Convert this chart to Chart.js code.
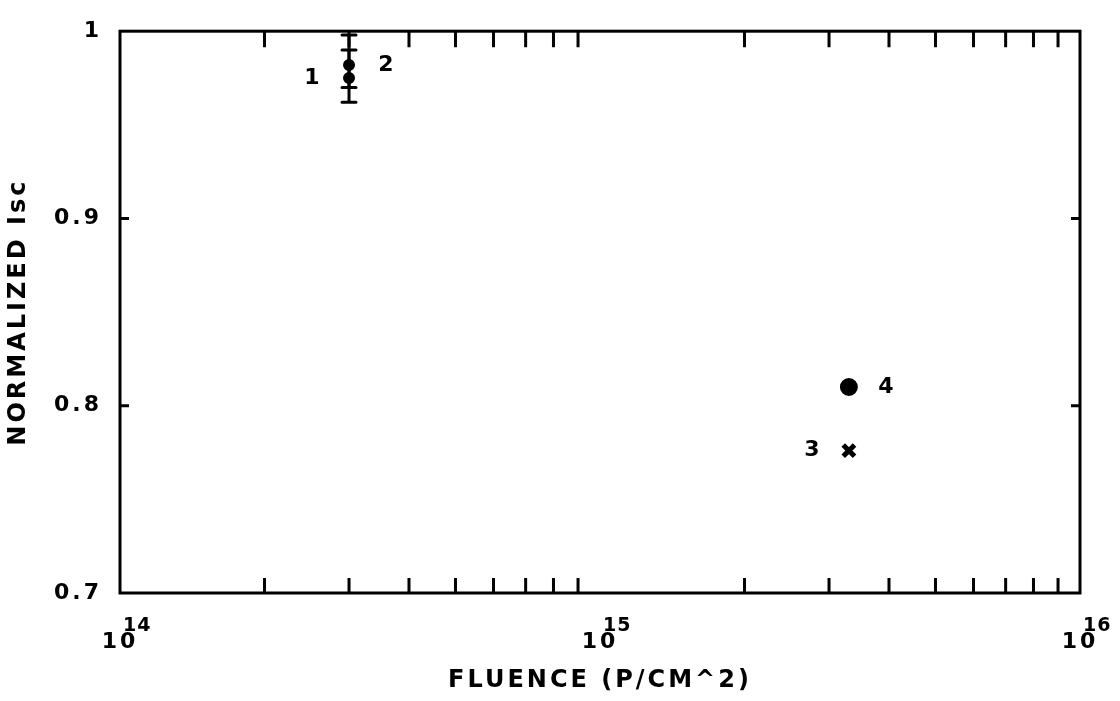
<!DOCTYPE html>
<html>
<head>
<meta charset="utf-8">
<script src="https://cdn.jsdelivr.net/npm/chart.js@4.4.0/dist/chart.umd.min.js"></script>
<style>
html,body{margin:0;padding:0;background:#fff;}
#wrap{width:1120px;height:701px;}
</style>
</head>
<body>
<div id="wrap"><canvas id="c" width="1120" height="701"></canvas></div>
<script>
// ---- data ----
const seriesNames = ['1', '2', '3', '4'];
const fluence = [3.0e14, 3.0e14, 3.3e15, 3.3e15];
const iscNorm = [0.975, 0.982, 0.776, 0.810];
const errLow = [0.962, 0.970, null, null];
const errHigh = [0.990, 0.998, null, null];
const xDecades = [1e14, 1e15, 1e16];
const xDecadeBase = ['10', '10', '10'];
const xExponents = ['14', '15', '16'];
const xMinorTicks = [2e14, 3e14, 4e14, 5e14, 6e14, 7e14, 8e14, 9e14,
                     2e15, 3e15, 4e15, 5e15, 6e15, 7e15, 8e15, 9e15];
const yTicks = [0.7, 0.8, 0.9, 1.0];
const yTickLabels = ['0.7', '0.8', '0.9', '1'];
const yInnerTicks = [0.8, 0.9];
const xTitle = 'FLUENCE (P/CM^2)';
const yTitle = 'NORMALIZED Isc';

// ---- styles ----
const FONT = 'DejaVu Sans';
const markerShapes = ['circle', 'circle', 'crossRot', 'circle'];
const markerRadii = [5, 5, 8, 8];
const markerBorder = [2, 2, 5, 2];
const labelSides = [-1, 1, -1, 1];

const plotPlugin = {
  id: 'plotPlugin',
  beforeDraw(chart) {
    const ctx = chart.ctx;
    ctx.save();
    ctx.fillStyle = '#fff';
    ctx.fillRect(0, 0, chart.width, chart.height);
    ctx.restore();
    ctx.letterSpacing = '3px';
  },
  beforeDatasetsDraw(chart) {
    const ctx = chart.ctx;
    const xs = chart.scales.x, ys = chart.scales.y;
    ctx.save();
    ctx.strokeStyle = '#000';
    ctx.lineWidth = 3;
    ctx.lineCap = 'round';
    for (let i = 0; i < fluence.length; i++) {
      if (errLow[i] == null) continue;
      const px = xs.getPixelForValue(fluence[i]);
      const y1 = ys.getPixelForValue(errLow[i]);
      const y2 = ys.getPixelForValue(errHigh[i]);
      ctx.beginPath();
      ctx.moveTo(px, y1); ctx.lineTo(px, y2);
      ctx.moveTo(px - 7, y1); ctx.lineTo(px + 7, y1);
      ctx.moveTo(px - 7, y2); ctx.lineTo(px + 7, y2);
      ctx.stroke();
    }
    ctx.restore();
  },
  afterDatasetsDraw(chart) {
    const ctx = chart.ctx;
    ctx.save();
    ctx.fillStyle = '#000';
    ctx.font = 'bold 22px "' + FONT + '"';
    ctx.letterSpacing = '0px';
    ctx.textAlign = 'center';
    ctx.textBaseline = 'middle';
    for (let i = 0; i < seriesNames.length; i++) {
      const el = chart.getDatasetMeta(i).data[0];
      ctx.fillText(seriesNames[i], el.x + labelSides[i] * 37, el.y);
    }
    ctx.restore();
  },
  afterDraw(chart) {
    const ctx = chart.ctx;
    const a = chart.chartArea;
    const xs = chart.scales.x, ys = chart.scales.y;
    ctx.save();
    ctx.strokeStyle = '#000';
    ctx.lineWidth = 3;
    ctx.strokeRect(a.left, a.top, a.right - a.left, a.bottom - a.top);
    ctx.beginPath();
    xMinorTicks.forEach(v => {
      const px = xs.getPixelForValue(v);
      ctx.moveTo(px, a.bottom); ctx.lineTo(px, a.bottom - 15);
      ctx.moveTo(px, a.top); ctx.lineTo(px, a.top + 16);
    });
    yInnerTicks.forEach(v => {
      const py = ys.getPixelForValue(v);
      ctx.moveTo(a.left, py); ctx.lineTo(a.left + 9, py);
      ctx.moveTo(a.right, py); ctx.lineTo(a.right - 9, py);
    });
    ctx.stroke();
    // exponents of decade labels
    ctx.fillStyle = '#000';
    ctx.font = 'bold 19px "' + FONT + '"';
    ctx.letterSpacing = '1px';
    ctx.textAlign = 'left';
    ctx.textBaseline = 'alphabetic';
    xDecades.forEach((v, i) => {
      const px = xs.getPixelForValue(v);
      ctx.fillText(xExponents[i], px + 3, xs.top + 38);
    });
    ctx.restore();
  }
};

const datasets = seriesNames.map((n, i) => ({
  label: n,
  data: [{ x: fluence[i], y: iscNorm[i] }],
  pointStyle: markerShapes[i],
  pointRadius: markerRadii[i],
  pointBorderWidth: markerBorder[i],
  pointBackgroundColor: '#000',
  pointBorderColor: '#000',
  showLine: false
}));

new Chart(document.getElementById('c'), {
  type: 'scatter',
  data: { datasets },
  plugins: [plotPlugin],
  options: {
    responsive: false,
    devicePixelRatio: 1,
    animation: false,
    events: [],
    layout: { padding: { top: 27, right: 40, left: 0, bottom: 0 } },
    plugins: { legend: { display: false }, tooltip: { enabled: false } },
    scales: {
      x: {
        type: 'logarithmic',
        position: 'bottom',
        min: xDecades[0],
        max: xDecades[xDecades.length - 1],
        afterBuildTicks: s => { s.ticks = xDecades.map(v => ({ value: v })); },
        afterFit: s => { s.height = 108; s.paddingLeft = 0; s.paddingRight = 0; },
        grid: { display: false, drawTicks: false },
        border: { display: false },
        ticks: {
          autoSkip: false, maxRotation: 0, minRotation: 0, padding: 36, color: '#000',
          font: { family: FONT, weight: 'bold', size: 22 },
          callback: (v, i) => xDecadeBase[i]
        },
        title: {
          display: true, text: xTitle, color: '#000',
          font: { family: FONT, weight: 'bold', size: 24 },
          padding: { top: 0, bottom: 6 }
        }
      },
      y: {
        min: yTicks[0],
        max: yTicks[yTicks.length - 1],
        afterBuildTicks: s => { s.ticks = yTicks.map(v => ({ value: v })); },
        afterFit: s => { s.width = 120; },
        grid: { display: false, drawTicks: false },
        border: { display: false },
        ticks: {
          padding: 18, color: '#000',
          font: { family: FONT, weight: 'bold', size: 22 },
          callback: (v, i) => yTickLabels[i]
        },
        title: {
          display: true, text: yTitle, color: '#000',
          font: { family: FONT, weight: 'bold', size: 24 },
          padding: { top: 4, bottom: 0 }
        }
      }
    }
  }
});
</script>
</body>
</html>
